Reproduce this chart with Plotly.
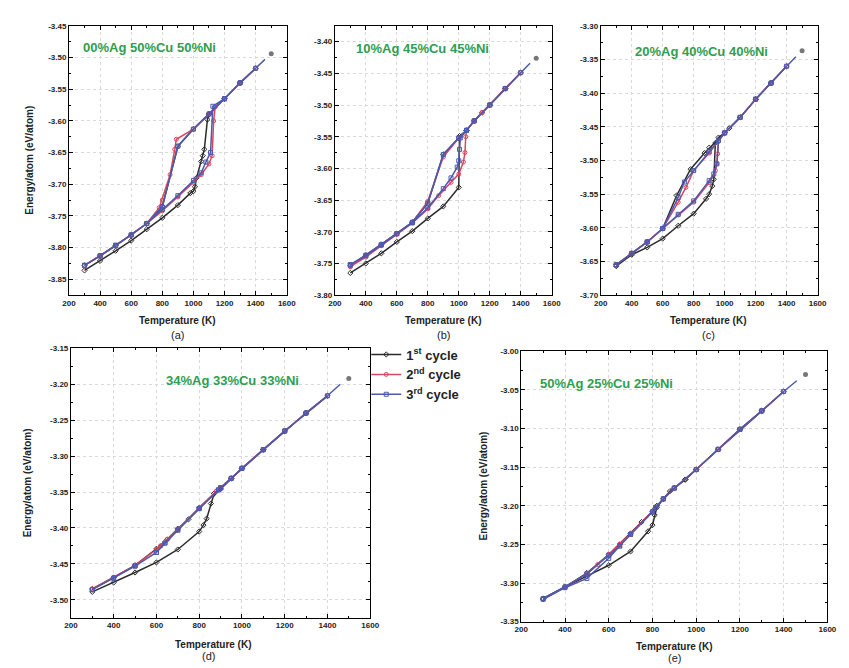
"""Energy/atom vs temperature hysteresis loops for Ag-Cu-Ni clusters (3 cycles)."""

import plotly.graph_objects as go

# ---- data: each cycle is heating branch followed by cooling branch ----
# (a) 00%Ag 50%Cu 50%Ni
a1_T = [300, 400, 500, 600, 700, 800, 900, 980, 1000, 1010, 1020, 1050, 1060, 1070, 1090, 1100,
        1200, 1300, 1400, 1300, 1200, 1100, 1000, 900, 800, 700, 600, 500, 400, 300]
a1_E = [-3.836, -3.821, -3.805, -3.789, -3.771, -3.753, -3.733, -3.714, -3.711, -3.704, -3.690,
        -3.664, -3.655, -3.645, -3.598, -3.590, -3.565, -3.540, -3.517, -3.540, -3.565, -3.589,
        -3.613, -3.640, -3.735, -3.762, -3.780, -3.797, -3.813, -3.828]
a2_T = [300, 400, 500, 600, 700, 800, 900, 1000, 1050, 1100, 1120, 1130, 1140, 1200, 1300, 1400,
        1300, 1200, 1100, 1000, 890, 880, 850, 800, 780, 700, 600, 500, 400, 300]
a2_E = [-3.828, -3.813, -3.797, -3.780, -3.762, -3.742, -3.720, -3.697, -3.685, -3.668, -3.655,
        -3.600, -3.578, -3.565, -3.540, -3.517, -3.540, -3.565, -3.589, -3.613, -3.629, -3.645,
        -3.685, -3.725, -3.737, -3.762, -3.780, -3.797, -3.813, -3.828]
a3_T = [300, 400, 500, 600, 700, 800, 900, 1000, 1050, 1080, 1110, 1125, 1200, 1300, 1400,
        1300, 1200, 1100, 1000, 900, 800, 700, 600, 500, 400, 300]
a3_E = [-3.828, -3.813, -3.796, -3.780, -3.762, -3.740, -3.718, -3.694, -3.682, -3.665, -3.650,
        -3.577, -3.565, -3.540, -3.517, -3.540, -3.565, -3.589, -3.613, -3.640, -3.736, -3.762,
        -3.780, -3.797, -3.813, -3.828]
a_ext_T = [1400, 1460]
a_ext_E = [-3.517, -3.503]
a_dot_T = [1500]
a_dot_E = [-3.494]

# (b) 10%Ag 45%Cu 45%Ni
b1_T = [300, 400, 500, 600, 700, 800, 900, 1000, 1005, 1050, 1100, 1150, 1200, 1300, 1400,
        1300, 1200, 1100, 1050, 1000, 900, 800, 700, 600, 500, 400, 300]
b1_E = [-3.765, -3.750, -3.734, -3.716, -3.699, -3.679, -3.660, -3.630, -3.549, -3.540, -3.525,
        -3.512, -3.500, -3.474, -3.449, -3.474, -3.500, -3.525, -3.540, -3.552, -3.578, -3.655,
        -3.685, -3.703, -3.720, -3.737, -3.753]
b2_T = [300, 400, 500, 600, 700, 800, 870, 950, 1000, 1030, 1040, 1045, 1050, 1100, 1150, 1200,
        1300, 1400, 1300, 1200, 1150, 1100, 1050, 1000, 900, 800, 700, 600, 500, 400, 300]
b2_E = [-3.755, -3.740, -3.722, -3.704, -3.686, -3.664, -3.643, -3.622, -3.609, -3.590, -3.575,
        -3.550, -3.540, -3.525, -3.512, -3.500, -3.474, -3.449, -3.474, -3.500, -3.512, -3.525,
        -3.540, -3.552, -3.582, -3.652, -3.685, -3.703, -3.720, -3.737, -3.755]
b3_T = [300, 400, 500, 600, 700, 800, 900, 950, 990, 1000, 1005, 1010, 1050, 1100, 1200, 1300,
        1400, 1300, 1200, 1100, 1050, 1000, 900, 800, 700, 600, 500, 400, 300]
b3_E = [-3.752, -3.738, -3.721, -3.703, -3.686, -3.662, -3.632, -3.615, -3.598, -3.588, -3.570,
        -3.552, -3.540, -3.525, -3.500, -3.474, -3.449, -3.474, -3.500, -3.525, -3.540, -3.552,
        -3.578, -3.655, -3.685, -3.703, -3.720, -3.737, -3.752]
b_ext_T = [1400, 1460]
b_ext_E = [-3.449, -3.434]
b_dot_T = [1500]
b_dot_E = [-3.426]

# (c) 20%Ag 40%Cu 40%Ni
c1_T = [300, 400, 500, 600, 700, 800, 880, 900, 920, 930, 940, 960, 1000, 1030, 1100, 1200, 1300,
        1400, 1300, 1200, 1100, 1000, 900, 870, 780, 690, 600, 500, 400, 300]
c1_E = [-3.657, -3.640, -3.629, -3.616, -3.597, -3.579, -3.557, -3.550, -3.538, -3.528, -3.474,
        -3.466, -3.459, -3.452, -3.436, -3.409, -3.385, -3.360, -3.385, -3.409, -3.436, -3.459,
        -3.481, -3.489, -3.513, -3.552, -3.601, -3.621, -3.638, -3.655]
c2_T = [300, 400, 500, 600, 700, 800, 900, 940, 950, 955, 960, 1000, 1100, 1200, 1300, 1400,
        1300, 1200, 1100, 1000, 900, 800, 750, 700, 600, 500, 400, 300]
c2_E = [-3.655, -3.638, -3.621, -3.601, -3.581, -3.562, -3.533, -3.515, -3.505, -3.490, -3.472,
        -3.459, -3.436, -3.409, -3.385, -3.360, -3.385, -3.409, -3.436, -3.459, -3.489, -3.515,
        -3.540, -3.562, -3.601, -3.621, -3.638, -3.655]
c3_T = [300, 400, 500, 600, 700, 800, 900, 930, 950, 960, 1000, 1100, 1200, 1300, 1400,
        1300, 1200, 1100, 1000, 900, 800, 740, 700, 600, 500, 400, 300]
c3_E = [-3.655, -3.638, -3.621, -3.601, -3.580, -3.560, -3.530, -3.520, -3.505, -3.470, -3.459,
        -3.436, -3.409, -3.385, -3.360, -3.385, -3.409, -3.436, -3.459, -3.487, -3.515, -3.532,
        -3.555, -3.601, -3.621, -3.638, -3.655]
c_ext_T = [1400, 1460]
c_ext_E = [-3.360, -3.346]
c_dot_T = [1500]
c_dot_E = [-3.337]

# (d) 34%Ag 33%Cu 33%Ni
d1_T = [300, 400, 500, 600, 700, 800, 820, 835, 855, 870, 900, 950, 1000, 1100, 1200, 1300, 1400,
        1300, 1200, 1100, 1000, 950, 900, 870, 800, 750, 700, 650, 600, 500, 400, 300]
d1_E = [-3.489, -3.476, -3.462, -3.448, -3.430, -3.405, -3.396, -3.387, -3.366, -3.352, -3.346,
        -3.331, -3.317, -3.291, -3.265, -3.240, -3.216, -3.240, -3.265, -3.291, -3.317, -3.331,
        -3.345, -3.352, -3.372, -3.388, -3.401, -3.416, -3.429, -3.452, -3.469, -3.485]
d2_T = [300, 400, 500, 600, 620, 650, 700, 800, 880, 900, 950, 1000, 1100, 1200, 1300, 1400,
        1300, 1200, 1100, 1000, 950, 900, 880, 800, 700, 650, 620, 600, 500, 400, 300]
d2_E = [-3.485, -3.469, -3.452, -3.430, -3.425, -3.416, -3.402, -3.372, -3.349, -3.344, -3.331,
        -3.317, -3.291, -3.265, -3.240, -3.216, -3.240, -3.265, -3.291, -3.317, -3.331, -3.344,
        -3.349, -3.372, -3.402, -3.416, -3.425, -3.430, -3.452, -3.469, -3.485]
d3_T = [300, 400, 500, 600, 640, 700, 800, 890, 900, 950, 1000, 1100, 1200, 1300, 1400,
        1300, 1200, 1100, 1000, 950, 900, 890, 800, 700, 640, 600, 500, 400, 300]
d3_E = [-3.486, -3.470, -3.453, -3.434, -3.421, -3.403, -3.373, -3.347, -3.344, -3.331, -3.317,
        -3.291, -3.265, -3.240, -3.216, -3.240, -3.265, -3.291, -3.317, -3.331, -3.344, -3.347,
        -3.373, -3.403, -3.421, -3.434, -3.453, -3.470, -3.486]
d_ext_T = [1400, 1460]
d_ext_E = [-3.216, -3.200]
d_dot_T = [1500]
d_dot_E = [-3.192]

# (e) 50%Ag 25%Cu 25%Ni
e1_T = [300, 400, 500, 600, 700, 780, 800, 810, 820, 850, 880, 900, 950, 1000, 1100, 1200, 1300,
        1400, 1300, 1200, 1100, 1000, 950, 900, 850, 820, 800, 750, 700, 650, 600, 500, 400, 300]
e1_E = [-3.321, -3.305, -3.291, -3.277, -3.259, -3.233, -3.225, -3.212, -3.202, -3.191, -3.181,
        -3.177, -3.166, -3.153, -3.127, -3.101, -3.077, -3.052, -3.077, -3.101, -3.127, -3.153,
        -3.166, -3.177, -3.191, -3.200, -3.207, -3.221, -3.236, -3.250, -3.263, -3.287, -3.305,
        -3.320]
e2_T = [300, 400, 500, 550, 600, 650, 700, 800, 850, 900, 1000, 1100, 1200, 1300, 1400,
        1300, 1200, 1100, 1000, 900, 850, 800, 700, 650, 600, 500, 400, 300]
e2_E = [-3.320, -3.305, -3.288, -3.276, -3.263, -3.250, -3.236, -3.207, -3.191, -3.177, -3.153,
        -3.127, -3.101, -3.077, -3.052, -3.077, -3.101, -3.127, -3.153, -3.177, -3.191, -3.207,
        -3.236, -3.250, -3.263, -3.288, -3.305, -3.320]
e3_T = [300, 400, 500, 600, 650, 700, 800, 815, 850, 900, 1000, 1100, 1200, 1300, 1400,
        1300, 1200, 1100, 1000, 900, 850, 815, 800, 700, 650, 600, 500, 400, 300]
e3_E = [-3.321, -3.306, -3.294, -3.268, -3.252, -3.237, -3.208, -3.202, -3.191, -3.177, -3.153,
        -3.127, -3.101, -3.077, -3.052, -3.077, -3.101, -3.127, -3.153, -3.177, -3.191, -3.202,
        -3.208, -3.237, -3.252, -3.264, -3.288, -3.305, -3.320]
e_ext_T = [1400, 1460]
e_ext_E = [-3.052, -3.038]
e_dot_T = [1500]
e_dot_E = [-3.030]

compositions = ["00%Ag 50%Cu 50%Ni", "10%Ag 45%Cu 45%Ni", "20%Ag 40%Cu 40%Ni",
                "34%Ag 33%Cu 33%Ni", "50%Ag 25%Cu 25%Ni"]
panel_labels = ["(a)", "(b)", "(c)", "(d)", "(e)"]
cycle_names = ["1<sup>st</sup> cycle", "2<sup>nd</sup> cycle", "3<sup>rd</sup> cycle"]
x_ticks = [200, 400, 600, 800, 1000, 1200, 1400, 1600]
y_ranges = [[-3.875, -3.45], [-3.80, -3.375], [-3.70, -3.30], [-3.525, -3.15], [-3.35, -3.00]]
y_ticks = [
    [-3.85, -3.80, -3.75, -3.70, -3.65, -3.60, -3.55, -3.50, -3.45],
    [-3.80, -3.75, -3.70, -3.65, -3.60, -3.55, -3.50, -3.45, -3.40],
    [-3.70, -3.65, -3.60, -3.55, -3.50, -3.45, -3.40, -3.35, -3.30],
    [-3.50, -3.45, -3.40, -3.35, -3.30, -3.25, -3.20, -3.15],
    [-3.35, -3.30, -3.25, -3.20, -3.15, -3.10, -3.05, -3.00],
]

panels = [
    ([(a1_T, a1_E), (a2_T, a2_E), (a3_T, a3_E)], (a_ext_T, a_ext_E), (a_dot_T, a_dot_E)),
    ([(b1_T, b1_E), (b2_T, b2_E), (b3_T, b3_E)], (b_ext_T, b_ext_E), (b_dot_T, b_dot_E)),
    ([(c1_T, c1_E), (c2_T, c2_E), (c3_T, c3_E)], (c_ext_T, c_ext_E), (c_dot_T, c_dot_E)),
    ([(d1_T, d1_E), (d2_T, d2_E), (d3_T, d3_E)], (d_ext_T, d_ext_E), (d_dot_T, d_dot_E)),
    ([(e1_T, e1_E), (e2_T, e2_E), (e3_T, e3_E)], (e_ext_T, e_ext_E), (e_dot_T, e_dot_E)),
]

# ---- layout geometry (pixels in an 849x668 page) ----
W, H = 849, 668
boxes = [(55, 277, 14, 287), (326, 547, 14, 287), (597, 818, 14, 287),
         (57, 362, 341, 614), (516, 828, 344, 618)]
label_pos = [(166, 327), (437, 327), (707, 327), (197, 653), (672, 655)]
xtitle_pos = [(166, 313), (437, 313), (707, 313), (202, 641), (672, 643)]
ytitle_pos = [(15, 150), None, None, (13, 477), (478, 480)]
comp_pos = [(137, 36), (415, 37), (700, 40), (222, 374), (603, 377)]

colors = ["#2b2b2b", "#d9475f", "#4b5aae"]
symbols = ["diamond-open", "circle-open", "square-open"]
FONT = "Arial, Liberation Sans, sans-serif"
GREEN = "#2f9e4f"

fig = go.Figure()
annotations = []


def px_x(x):
    return x / W


def px_y(y):
    return 1 - y / H


def note(pos, text, size, color="#222", angle=0):
    return dict(x=px_x(pos[0]), y=px_y(pos[1]), xref="paper", yref="paper",
                xanchor="center", yanchor="middle", text=text, textangle=angle,
                showarrow=False, font=dict(family=FONT, size=size, color=color))


for i, (cycles, ext, dot) in enumerate(panels):
    n = "" if i == 0 else str(i + 1)
    xa, ya = "x" + n, "y" + n
    for c, (T, E) in enumerate(cycles):
        fig.add_trace(go.Scatter(
            x=T, y=E, mode="lines+markers", name=cycle_names[c],
            xaxis=xa, yaxis=ya, showlegend=(i == 0),
            line=dict(color=colors[c], width=1.5),
            marker=dict(symbol=symbols[c], size=4, color=colors[c],
                        line=dict(width=1, color=colors[c])),
        ))
    fig.add_trace(go.Scatter(x=ext[0], y=ext[1], mode="lines", xaxis=xa, yaxis=ya,
                             showlegend=False, line=dict(color=colors[2], width=1.5)))
    fig.add_trace(go.Scatter(x=dot[0], y=dot[1], mode="markers", xaxis=xa, yaxis=ya,
                             showlegend=False,
                             marker=dict(symbol="circle", size=5, color="#777777")))

    x0, x1, y0, y1 = boxes[i]
    axis_common = dict(
        showline=True, linecolor="black", linewidth=1, mirror="allticks",
        ticks="inside", ticklen=4, tickcolor="black",
        minor=dict(ticks="inside", ticklen=2, tickcolor="black", showgrid=False),
        showgrid=True, gridcolor="#d9d9d9", griddash="dot", gridwidth=1,
        zeroline=False,
        tickfont=dict(family=FONT, size=8, color="#222", weight="bold"),
    )
    fig.update_layout(**{
        "xaxis" + n: dict(axis_common, domain=[px_x(x0), px_x(x1)], anchor=ya,
                          range=[200, 1600], tickvals=x_ticks,
                          ticktext=[str(v) for v in x_ticks],
                          minor_dtick=100, minor_tick0=200),
        "yaxis" + n: dict(axis_common, domain=[px_y(y1), px_y(y0)], anchor=xa,
                          range=y_ranges[i], tickvals=y_ticks[i],
                          ticktext=["%.2f" % v for v in y_ticks[i]],
                          minor_dtick=0.025, minor_tick0=-3.5),
    })

    annotations.append(note(comp_pos[i], "<b>%s</b>" % compositions[i], 13, GREEN))
    annotations.append(note(xtitle_pos[i], "<b>Temperature (K)</b>", 10))
    annotations.append(note(label_pos[i], panel_labels[i], 11))
    if ytitle_pos[i] is not None:
        annotations.append(note(ytitle_pos[i], "<b>Energy/atom (eV/atom)</b>", 10, angle=-90))

fig.update_layout(
    width=W, height=H,
    margin=dict(l=0, r=0, t=0, b=0),
    paper_bgcolor="white", plot_bgcolor="white",
    annotations=annotations,
    legend=dict(x=px_x(358), y=px_y(332), xanchor="left", yanchor="top",
                bgcolor="rgba(0,0,0,0)",
                font=dict(family=FONT, size=13, color="#222", weight="bold"),
                itemwidth=30, tracegroupgap=0),
)

fig.write_html("out.html")
